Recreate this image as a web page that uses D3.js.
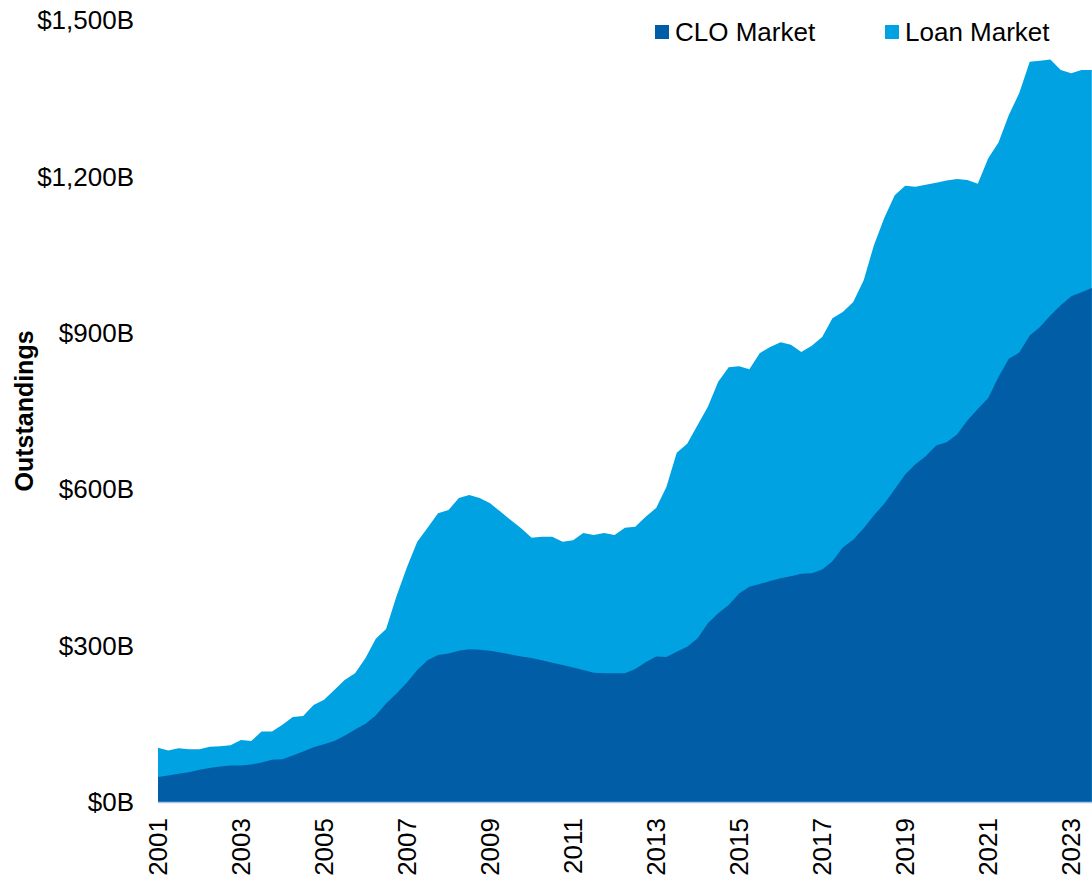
<!DOCTYPE html>
<html>
<head>
<meta charset="utf-8">
<script src="https://cdn.jsdelivr.net/npm/d3@7"></script>
<style>
  body { margin: 0; background: #fff; }
  svg text { font-family: Arial, "Liberation Sans", sans-serif; fill: #000; }
</style>
</head>
<body>
<svg id="chart" width="1092" height="883"></svg>
<script>
// quarterly observations, Jan 2001 .. Jul 2023 ($B)
var loanMarket = [104, 99, 103, 101, 101, 106, 107, 109, 119, 117, 135, 135, 148, 163, 165, 186,
  196, 215, 234, 247, 276, 313, 332, 395, 451, 499, 526, 554, 560, 583, 589, 583,
  573, 557, 541, 525, 507, 509, 509, 499, 502, 516, 512, 516, 512, 526, 528, 547,
  564, 604, 670, 687, 723, 758, 806, 834, 836, 830, 861, 873, 882, 877, 863, 875,
  892, 928, 940, 959, 1001, 1068, 1120, 1164, 1182, 1180, 1184, 1188, 1192, 1195, 1193, 1186,
  1235, 1265, 1318, 1360, 1420, 1422, 1424, 1404, 1398, 1404, 1404];

var cloMarket = [48, 51, 54, 57, 62, 65, 68, 70, 70, 72, 76, 81, 82, 89, 97, 105,
  111, 117, 127, 139, 150, 166, 189, 208, 229, 253, 272, 282, 285, 290, 293, 292,
  290, 287, 283, 279, 276, 272, 267, 263, 258, 253, 248, 247, 247, 247, 255, 268,
  279, 278, 288, 298, 314, 343, 362, 378, 400, 413, 418, 424, 429, 433, 438, 439,
  446, 462, 488, 503, 525, 550, 572, 600, 628, 648, 663, 684, 690, 705, 732, 754,
  775, 815, 850, 862, 895, 911, 933, 953, 970, 978, 986];

var seriesNames = ["CLO Market", "Loan Market"];
var seriesColors = ["#005DA6", "#00A2E1"];
var yTicks = [0, 300, 600, 900, 1200, 1500];
var xTickYears = [2001, 2003, 2005, 2007, 2009, 2011, 2013, 2015, 2017, 2019, 2021, 2023];

var dates = d3.timeMonth.every(3).range(new Date(2001, 0, 1), new Date(2023, 7, 1));

var svg = d3.select("#chart");

var x = d3.scaleTime()
    .domain([new Date(2001, 0, 1), new Date(2023, 6, 1)])
    .range([158, 1091.8]);

var y = d3.scaleLinear()
    .domain([0, 1500])
    .range([802, 20]);

function areaFor(values) {
  return d3.area()
      .x(function(d, i) { return x(dates[i]); })
      .y0(y(0))
      .y1(function(d) { return y(d); })(values);
}

// loan market behind, CLO in front
svg.append("path")
    .attr("d", areaFor(loanMarket))
    .attr("fill", seriesColors[1]);

svg.append("path")
    .attr("d", areaFor(cloMarket))
    .attr("fill", seriesColors[0]);

// baseline
svg.append("line")
    .attr("x1", 158).attr("x2", 1092)
    .attr("y1", y(0) + 0.5).attr("y2", y(0) + 0.5)
    .attr("stroke", "#a8c6e6")
    .attr("stroke-width", 1.5);

// y axis labels
var fmt = d3.format(",");
svg.append("g").selectAll("text")
    .data(yTicks)
  .enter().append("text")
    .attr("x", 134)
    .attr("y", function(d) { return y(d); })
    .attr("dy", "0.35em")
    .attr("text-anchor", "end")
    .style("font-size", "26px")
    .text(function(d) { return "$" + fmt(d) + "B"; });

// x axis labels, rotated
svg.append("g").selectAll("text")
    .data(xTickYears)
  .enter().append("text")
    .attr("transform", function(d) {
      return "translate(" + x(new Date(d, 0, 1)) + ",818) rotate(-90)";
    })
    .attr("dy", "0.35em")
    .attr("text-anchor", "end")
    .style("font-size", "26px")
    .text(function(d) { return d; });

// axis title
svg.append("text")
    .attr("transform", "translate(24,411) rotate(-90)")
    .attr("text-anchor", "middle")
    .attr("dy", "0.35em")
    .style("font-size", "25px")
    .style("font-weight", "bold")
    .text("Outstandings");

// legend
var legendX = [655, 885];
var legend = svg.append("g").selectAll("g")
    .data(seriesNames)
  .enter().append("g")
    .attr("transform", function(d, i) { return "translate(" + legendX[i] + ",0)"; });

legend.append("rect")
    .attr("x", 0).attr("y", 25)
    .attr("width", 14).attr("height", 14)
    .attr("fill", function(d, i) { return seriesColors[i]; });

legend.append("text")
    .attr("x", 20)
    .attr("y", 41)
    .style("font-size", "26px")
    .text(function(d) { return d; });
</script>
</body>
</html>
